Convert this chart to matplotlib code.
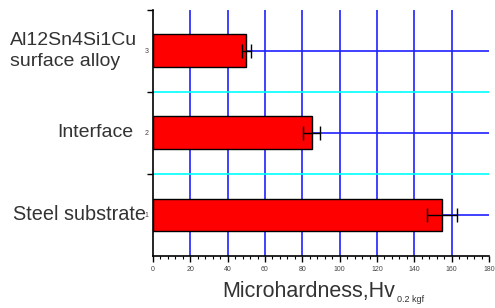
import matplotlib.pyplot as plt
import matplotlib.transforms as mtransforms
from matplotlib.ticker import MultipleLocator

plt.rcParams['font.family'] = ['Liberation Sans', 'DejaVu Sans']

# data
positions = [1, 2, 3]
hardness = [155, 85, 50]
errors = [8, 4.5, 2.5]
tick_labels = ['1', '2', '3']
sample_names = ['Steel substrate', 'Interface', 'Al12Sn4Si1Cu\nsurface alloy']
x_ticks = [0, 20, 40, 60, 80, 100, 120, 140, 160, 180]

fig = plt.figure(figsize=(4.95, 3.08), dpi=100)
ax = fig.add_axes([0.309, 0.169, 0.679, 0.799])

# grid lines drawn by hand to get the blue / cyan look
for xv in x_ticks[1:-1]:
    ax.axvline(xv, color='#2020ff', lw=1.2, zorder=1)
for yv in positions:
    ax.axhline(yv, color='#2020ff', lw=1.2, zorder=1)
for yv in [1.5, 2.5]:
    ax.axhline(yv, color='#00ffff', lw=1.2, zorder=1)

ax.barh(positions, hardness, height=0.4, color='#ff0000', edgecolor='black',
        lw=1.0, zorder=2)
ax.errorbar(hardness, positions, xerr=errors, fmt='none', ecolor='black',
            elinewidth=1.0, capsize=5, capthick=1.0, zorder=3)

ax.set_xlim(0, 180)
ax.set_ylim(0.5, 3.5)
ax.set_xticks(x_ticks)
ax.set_xticklabels([str(v) for v in x_ticks], fontsize=5, color='#444444')
ax.xaxis.set_minor_locator(MultipleLocator(4))
ax.set_yticks(positions)
ax.set_yticklabels(tick_labels, fontsize=5, color='#444444')
ax.yaxis.set_minor_locator(plt.FixedLocator([1.5, 2.5, 3.5]))
ax.tick_params(axis='y', which='major', length=0, pad=3)
ax.tick_params(axis='y', which='minor', length=4, width=1, direction='out')
ax.tick_params(axis='x', which='major', length=4, width=1, direction='out', pad=3)
ax.tick_params(axis='x', which='minor', length=2, width=0.8, direction='out')
for s in ['top', 'right']:
    ax.spines[s].set_visible(False)
ax.spines['left'].set_linewidth(1.2)
ax.spines['bottom'].set_linewidth(1.2)

# x label with a small subscript
fig.text(222 / 495, 1 - 292 / 308, 'Microhardness,Hv', ha='left', va='center',
         fontsize=15.5, color='#333333')
fig.text(397 / 495, 1 - 300 / 308, '0.2 kgf', ha='left', va='center',
         fontsize=6.5, color='#333333')

# sample names to the left of the axis
trans = mtransforms.blended_transform_factory(fig.transFigure, ax.transData)
ax.text(146 / 495, 1, sample_names[0], transform=trans, ha='right', va='center',
        fontsize=14.3, color='#333333')
ax.text(133 / 495, 2, sample_names[1], transform=trans, ha='right', va='center',
        fontsize=14, color='#333333')
ax.text(10 / 495, 3.0, sample_names[2], transform=trans, ha='left', va='center',
        fontsize=14, color='#333333', linespacing=1.3)

fig.savefig('out.png', dpi=100)
